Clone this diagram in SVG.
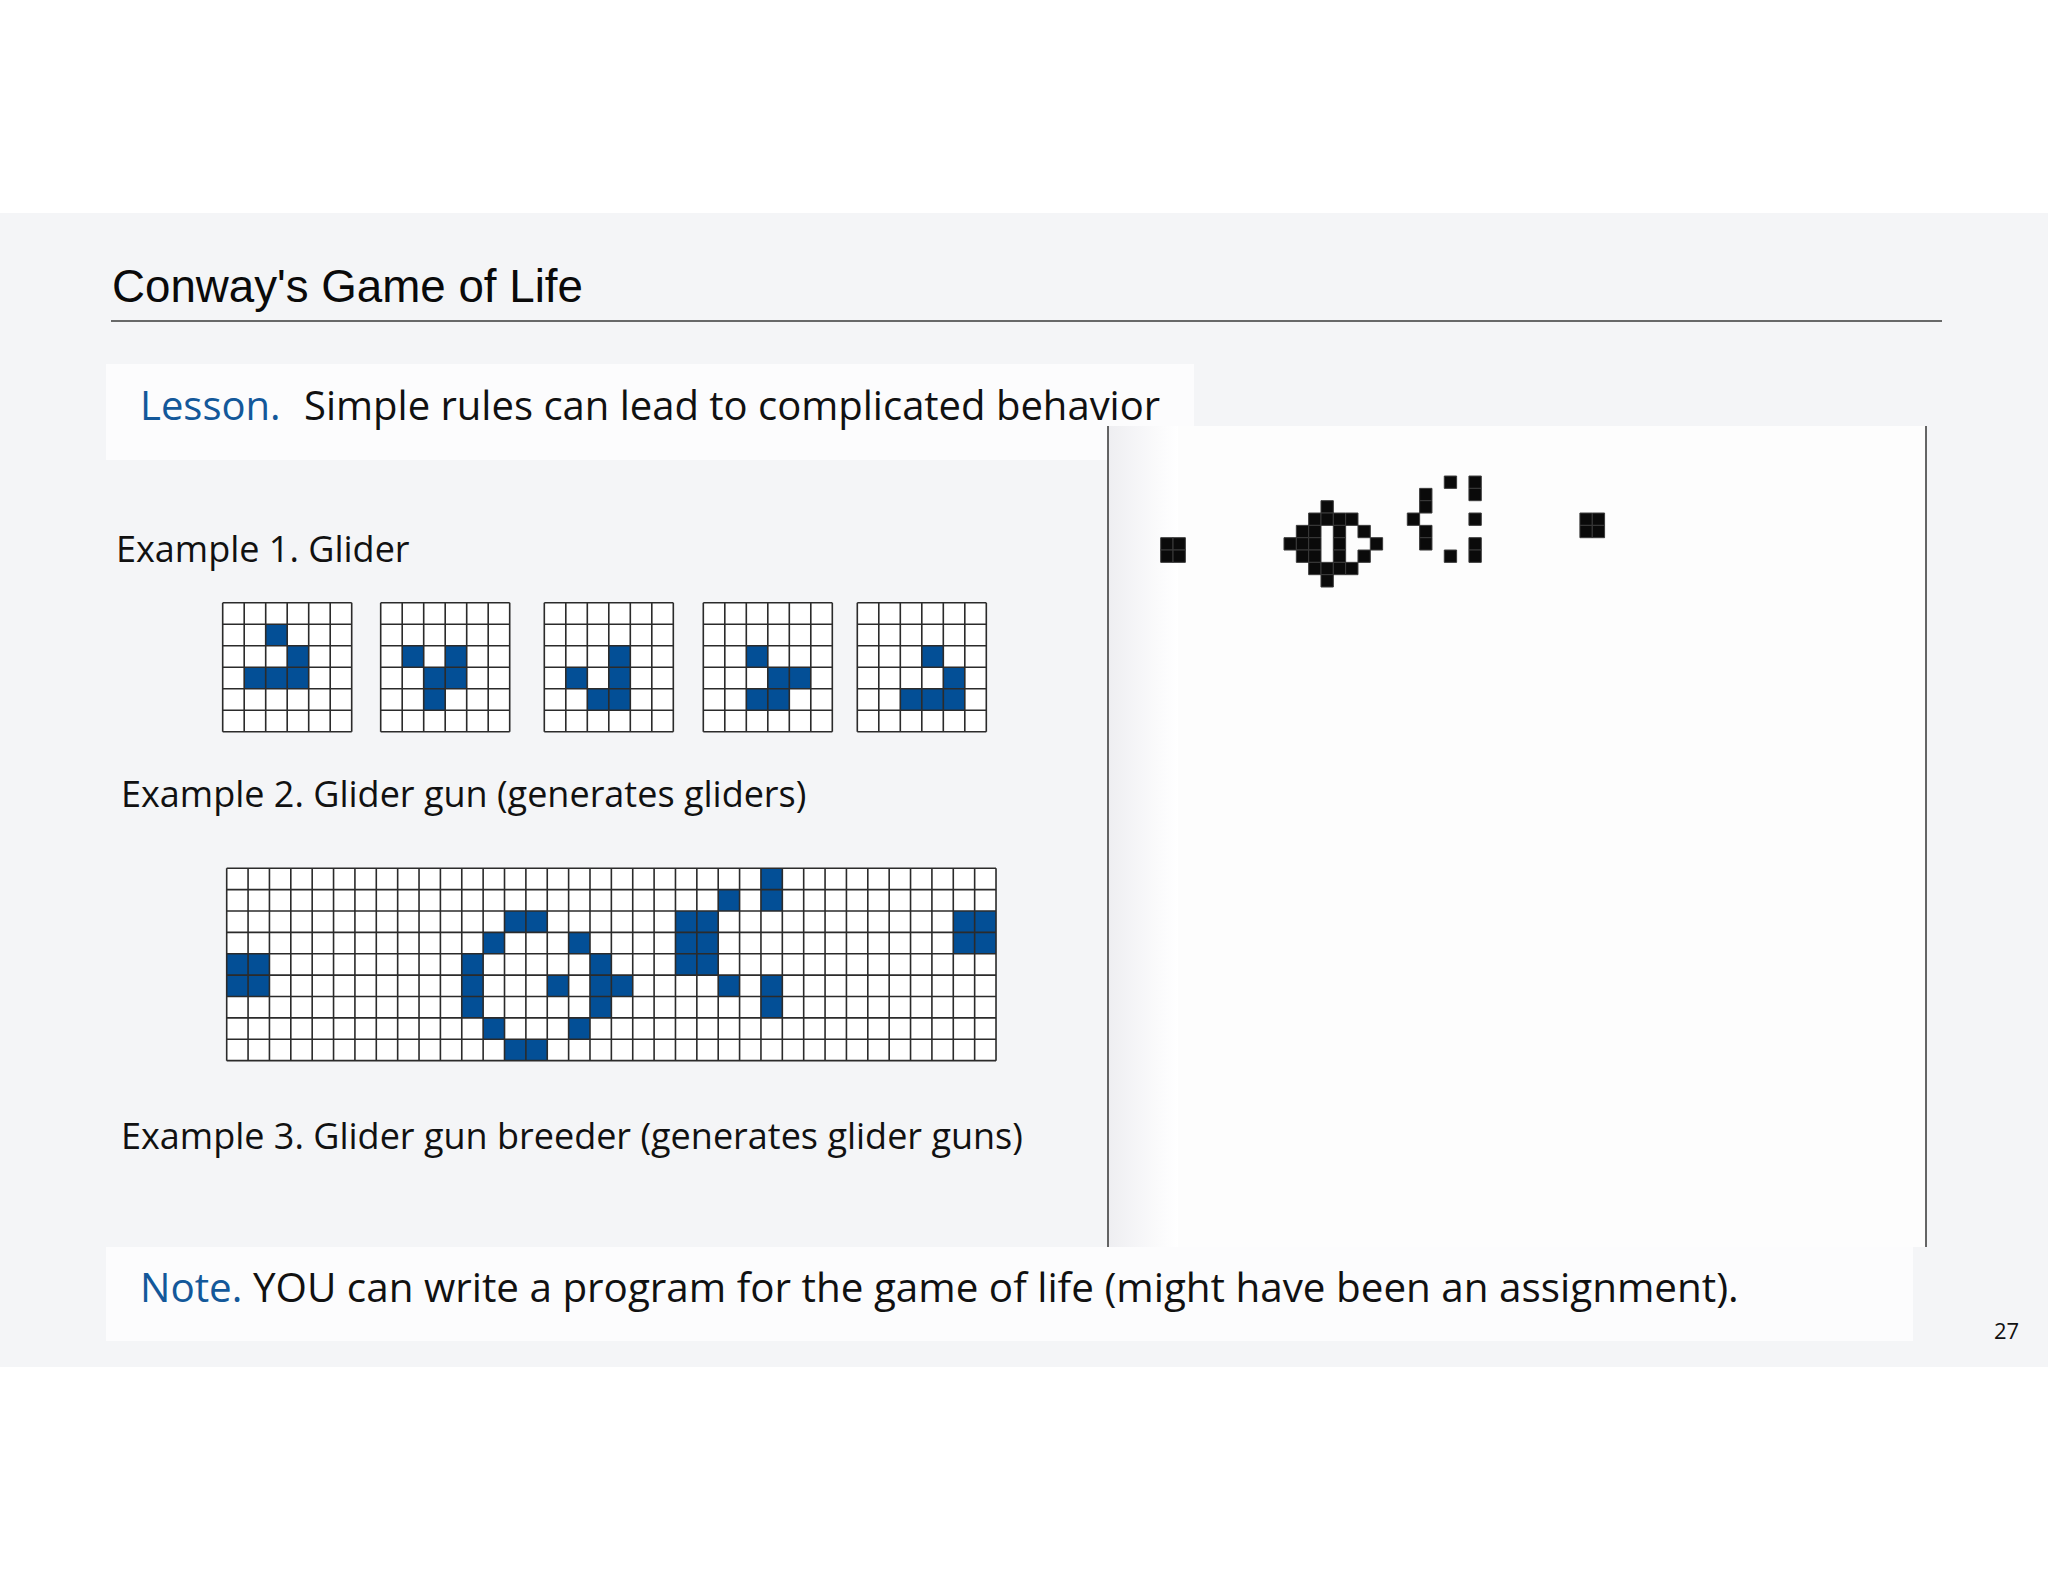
<svg xmlns="http://www.w3.org/2000/svg" width="2048" height="1582" viewBox="0 0 2048 1582">
<style>
.body{font-family:"Open Sans","Noto Sans","Liberation Sans",sans-serif;fill:#111}
.blue{fill:#13589a}
.cellb{fill:#034f96}
.cellk{fill:#0a0a0a;stroke:#3a3a3a;stroke-width:1;vector-effect:non-scaling-stroke}
.grid{fill:none;stroke:#2b2b2b;stroke-width:0.075}
</style>
<defs>
<path id="g6" d="M0,0H6M0,1H6M0,2H6M0,3H6M0,4H6M0,5H6M0,6H6M0,0V6M1,0V6M2,0V6M3,0V6M4,0V6M5,0V6M6,0V6"/>
<path id="g36" d="M0,0H36M0,1H36M0,2H36M0,3H36M0,4H36M0,5H36M0,6H36M0,7H36M0,8H36M0,9H36M0,0V9M1,0V9M2,0V9M3,0V9M4,0V9M5,0V9M6,0V9M7,0V9M8,0V9M9,0V9M10,0V9M11,0V9M12,0V9M13,0V9M14,0V9M15,0V9M16,0V9M17,0V9M18,0V9M19,0V9M20,0V9M21,0V9M22,0V9M23,0V9M24,0V9M25,0V9M26,0V9M27,0V9M28,0V9M29,0V9M30,0V9M31,0V9M32,0V9M33,0V9M34,0V9M35,0V9M36,0V9"/>
<linearGradient id="edge" x1="0" x2="1" y1="0" y2="0">
<stop offset="0" stop-color="#eeeef1"/>
<stop offset="0.45" stop-color="#f6f6f8"/>
<stop offset="1" stop-color="#ffffff"/>
</linearGradient>
</defs>
<rect x="0" y="0" width="2048" height="1582" fill="#ffffff"/>
<rect x="0" y="213" width="2048" height="1154" fill="#f4f5f7"/>

<g id="title">
<text x="112" y="302" font-family="'Liberation Sans',sans-serif" font-size="45.7" fill="#0a0a0a">Conway's Game of Life</text>
<line x1="111" y1="321" x2="1942" y2="321" stroke="#3a3a3a" stroke-width="1.5"/>
</g>

<g id="lesson">
<rect x="106" y="364" width="1088" height="96" fill="#fcfcfd"/>
<text class="body" x="140" y="420" font-size="40"><tspan class="blue">Lesson.</tspan><tspan x="304">Simple rules can lead to complicated behavior</tspan></text>
</g>

<g id="panel">
<rect x="1108" y="426" width="818" height="821" fill="#fdfdfd"/>
<rect x="1108" y="426" width="70" height="821" fill="url(#edge)"/>
<line x1="1108" y1="426" x2="1108" y2="1247" stroke="#333" stroke-width="1.5"/>
<line x1="1926" y1="426" x2="1926" y2="1247" stroke="#333" stroke-width="1.5"/>
<g transform="translate(1284,500.7) scale(12.33)">
<rect class="cellk" x="-10" y="3" width="1" height="1"/><rect class="cellk" x="-9" y="3" width="1" height="1"/>
<rect class="cellk" x="-10" y="4" width="1" height="1"/><rect class="cellk" x="-9" y="4" width="1" height="1"/>
<rect class="cellk" x="3" y="0" width="1" height="1"/>
<rect class="cellk" x="2" y="1" width="1" height="1"/><rect class="cellk" x="3" y="1" width="1" height="1"/><rect class="cellk" x="4" y="1" width="1" height="1"/><rect class="cellk" x="5" y="1" width="1" height="1"/>
<rect class="cellk" x="1" y="2" width="1" height="1"/><rect class="cellk" x="2" y="2" width="1" height="1"/><rect class="cellk" x="4" y="2" width="1" height="1"/><rect class="cellk" x="6" y="2" width="1" height="1"/>
<rect class="cellk" x="0" y="3" width="1" height="1"/><rect class="cellk" x="1" y="3" width="1" height="1"/><rect class="cellk" x="2" y="3" width="1" height="1"/><rect class="cellk" x="4" y="3" width="1" height="1"/><rect class="cellk" x="7" y="3" width="1" height="1"/>
<rect class="cellk" x="1" y="4" width="1" height="1"/><rect class="cellk" x="2" y="4" width="1" height="1"/><rect class="cellk" x="4" y="4" width="1" height="1"/><rect class="cellk" x="6" y="4" width="1" height="1"/>
<rect class="cellk" x="2" y="5" width="1" height="1"/><rect class="cellk" x="3" y="5" width="1" height="1"/><rect class="cellk" x="4" y="5" width="1" height="1"/><rect class="cellk" x="5" y="5" width="1" height="1"/>
<rect class="cellk" x="3" y="6" width="1" height="1"/>
<rect class="cellk" x="13" y="-2" width="1" height="1"/>
<rect class="cellk" x="15" y="-2" width="1" height="1"/><rect class="cellk" x="15" y="-1" width="1" height="1"/>
<rect class="cellk" x="11" y="-1" width="1" height="1"/><rect class="cellk" x="11" y="0" width="1" height="1"/>
<rect class="cellk" x="10" y="1" width="1" height="1"/>
<rect class="cellk" x="15" y="1" width="1" height="1"/>
<rect class="cellk" x="11" y="2" width="1" height="1"/><rect class="cellk" x="11" y="3" width="1" height="1"/>
<rect class="cellk" x="15" y="3" width="1" height="1"/><rect class="cellk" x="15" y="4" width="1" height="1"/>
<rect class="cellk" x="13" y="4" width="1" height="1"/>
<rect class="cellk" x="24" y="1" width="1" height="1"/><rect class="cellk" x="25" y="1" width="1" height="1"/>
<rect class="cellk" x="24" y="2" width="1" height="1"/><rect class="cellk" x="25" y="2" width="1" height="1"/>
</g>
</g>

<g id="example1">
<text class="body" x="116" y="562" font-size="36">Example 1. Glider</text>
<g transform="translate(222.7,602.7) scale(21.5)">
<rect width="6" height="6" fill="#fff"/>
<rect class="cellb" x="2" y="1" width="1" height="1"/><rect class="cellb" x="3" y="2" width="1" height="1"/><rect class="cellb" x="1" y="3" width="3" height="1"/>
<use href="#g6" class="grid"/>
</g>
<g transform="translate(380.7,602.7) scale(21.5)">
<rect width="6" height="6" fill="#fff"/>
<rect class="cellb" x="1" y="2" width="1" height="1"/><rect class="cellb" x="3" y="2" width="1" height="1"/><rect class="cellb" x="2" y="3" width="2" height="1"/><rect class="cellb" x="2" y="4" width="1" height="1"/>
<use href="#g6" class="grid"/>
</g>
<g transform="translate(544.3,602.7) scale(21.5)">
<rect width="6" height="6" fill="#fff"/>
<rect class="cellb" x="3" y="2" width="1" height="1"/><rect class="cellb" x="1" y="3" width="1" height="1"/><rect class="cellb" x="3" y="3" width="1" height="1"/><rect class="cellb" x="2" y="4" width="2" height="1"/>
<use href="#g6" class="grid"/>
</g>
<g transform="translate(703.3,602.7) scale(21.5)">
<rect width="6" height="6" fill="#fff"/>
<rect class="cellb" x="2" y="2" width="1" height="1"/><rect class="cellb" x="3" y="3" width="2" height="1"/><rect class="cellb" x="2" y="4" width="2" height="1"/>
<use href="#g6" class="grid"/>
</g>
<g transform="translate(857.3,602.7) scale(21.5)">
<rect width="6" height="6" fill="#fff"/>
<rect class="cellb" x="3" y="2" width="1" height="1"/><rect class="cellb" x="4" y="3" width="1" height="1"/><rect class="cellb" x="2" y="4" width="3" height="1"/>
<use href="#g6" class="grid"/>
</g>
</g>

<g id="example2">
<text class="body" x="121" y="807" font-size="36">Example 2. Glider gun (generates gliders)</text>
<g transform="translate(226.7,868.3) scale(21.37)">
<rect width="36" height="9" fill="#fff"/>
<rect class="cellb" x="0" y="4" width="2" height="2"/>
<rect class="cellb" x="13" y="2" width="2" height="1"/>
<rect class="cellb" x="12" y="3" width="1" height="1"/><rect class="cellb" x="16" y="3" width="1" height="1"/>
<rect class="cellb" x="11" y="4" width="1" height="3"/>
<rect class="cellb" x="17" y="4" width="1" height="3"/>
<rect class="cellb" x="15" y="5" width="1" height="1"/><rect class="cellb" x="18" y="5" width="1" height="1"/>
<rect class="cellb" x="12" y="7" width="1" height="1"/><rect class="cellb" x="16" y="7" width="1" height="1"/>
<rect class="cellb" x="13" y="8" width="2" height="1"/>
<rect class="cellb" x="25" y="0" width="1" height="2"/>
<rect class="cellb" x="23" y="1" width="1" height="1"/>
<rect class="cellb" x="21" y="2" width="2" height="3"/>
<rect class="cellb" x="34" y="2" width="2" height="2"/>
<rect class="cellb" x="23" y="5" width="1" height="1"/>
<rect class="cellb" x="25" y="5" width="1" height="2"/>
<use href="#g36" class="grid"/>
</g>
</g>

<g id="example3">
<text class="body" x="121" y="1149" font-size="36">Example 3. Glider gun breeder (generates glider guns)</text>
</g>

<g id="note">
<rect x="106" y="1247" width="1807" height="94" fill="#fcfcfd"/>
<text class="body" x="140" y="1302" font-size="40.4"><tspan class="blue">Note.</tspan> YOU can write a program for the game of life (might have been an assignment).</text>
</g>

<g id="connectors"></g>

<text class="body" x="1994" y="1339" font-size="22">27</text>
</svg>
